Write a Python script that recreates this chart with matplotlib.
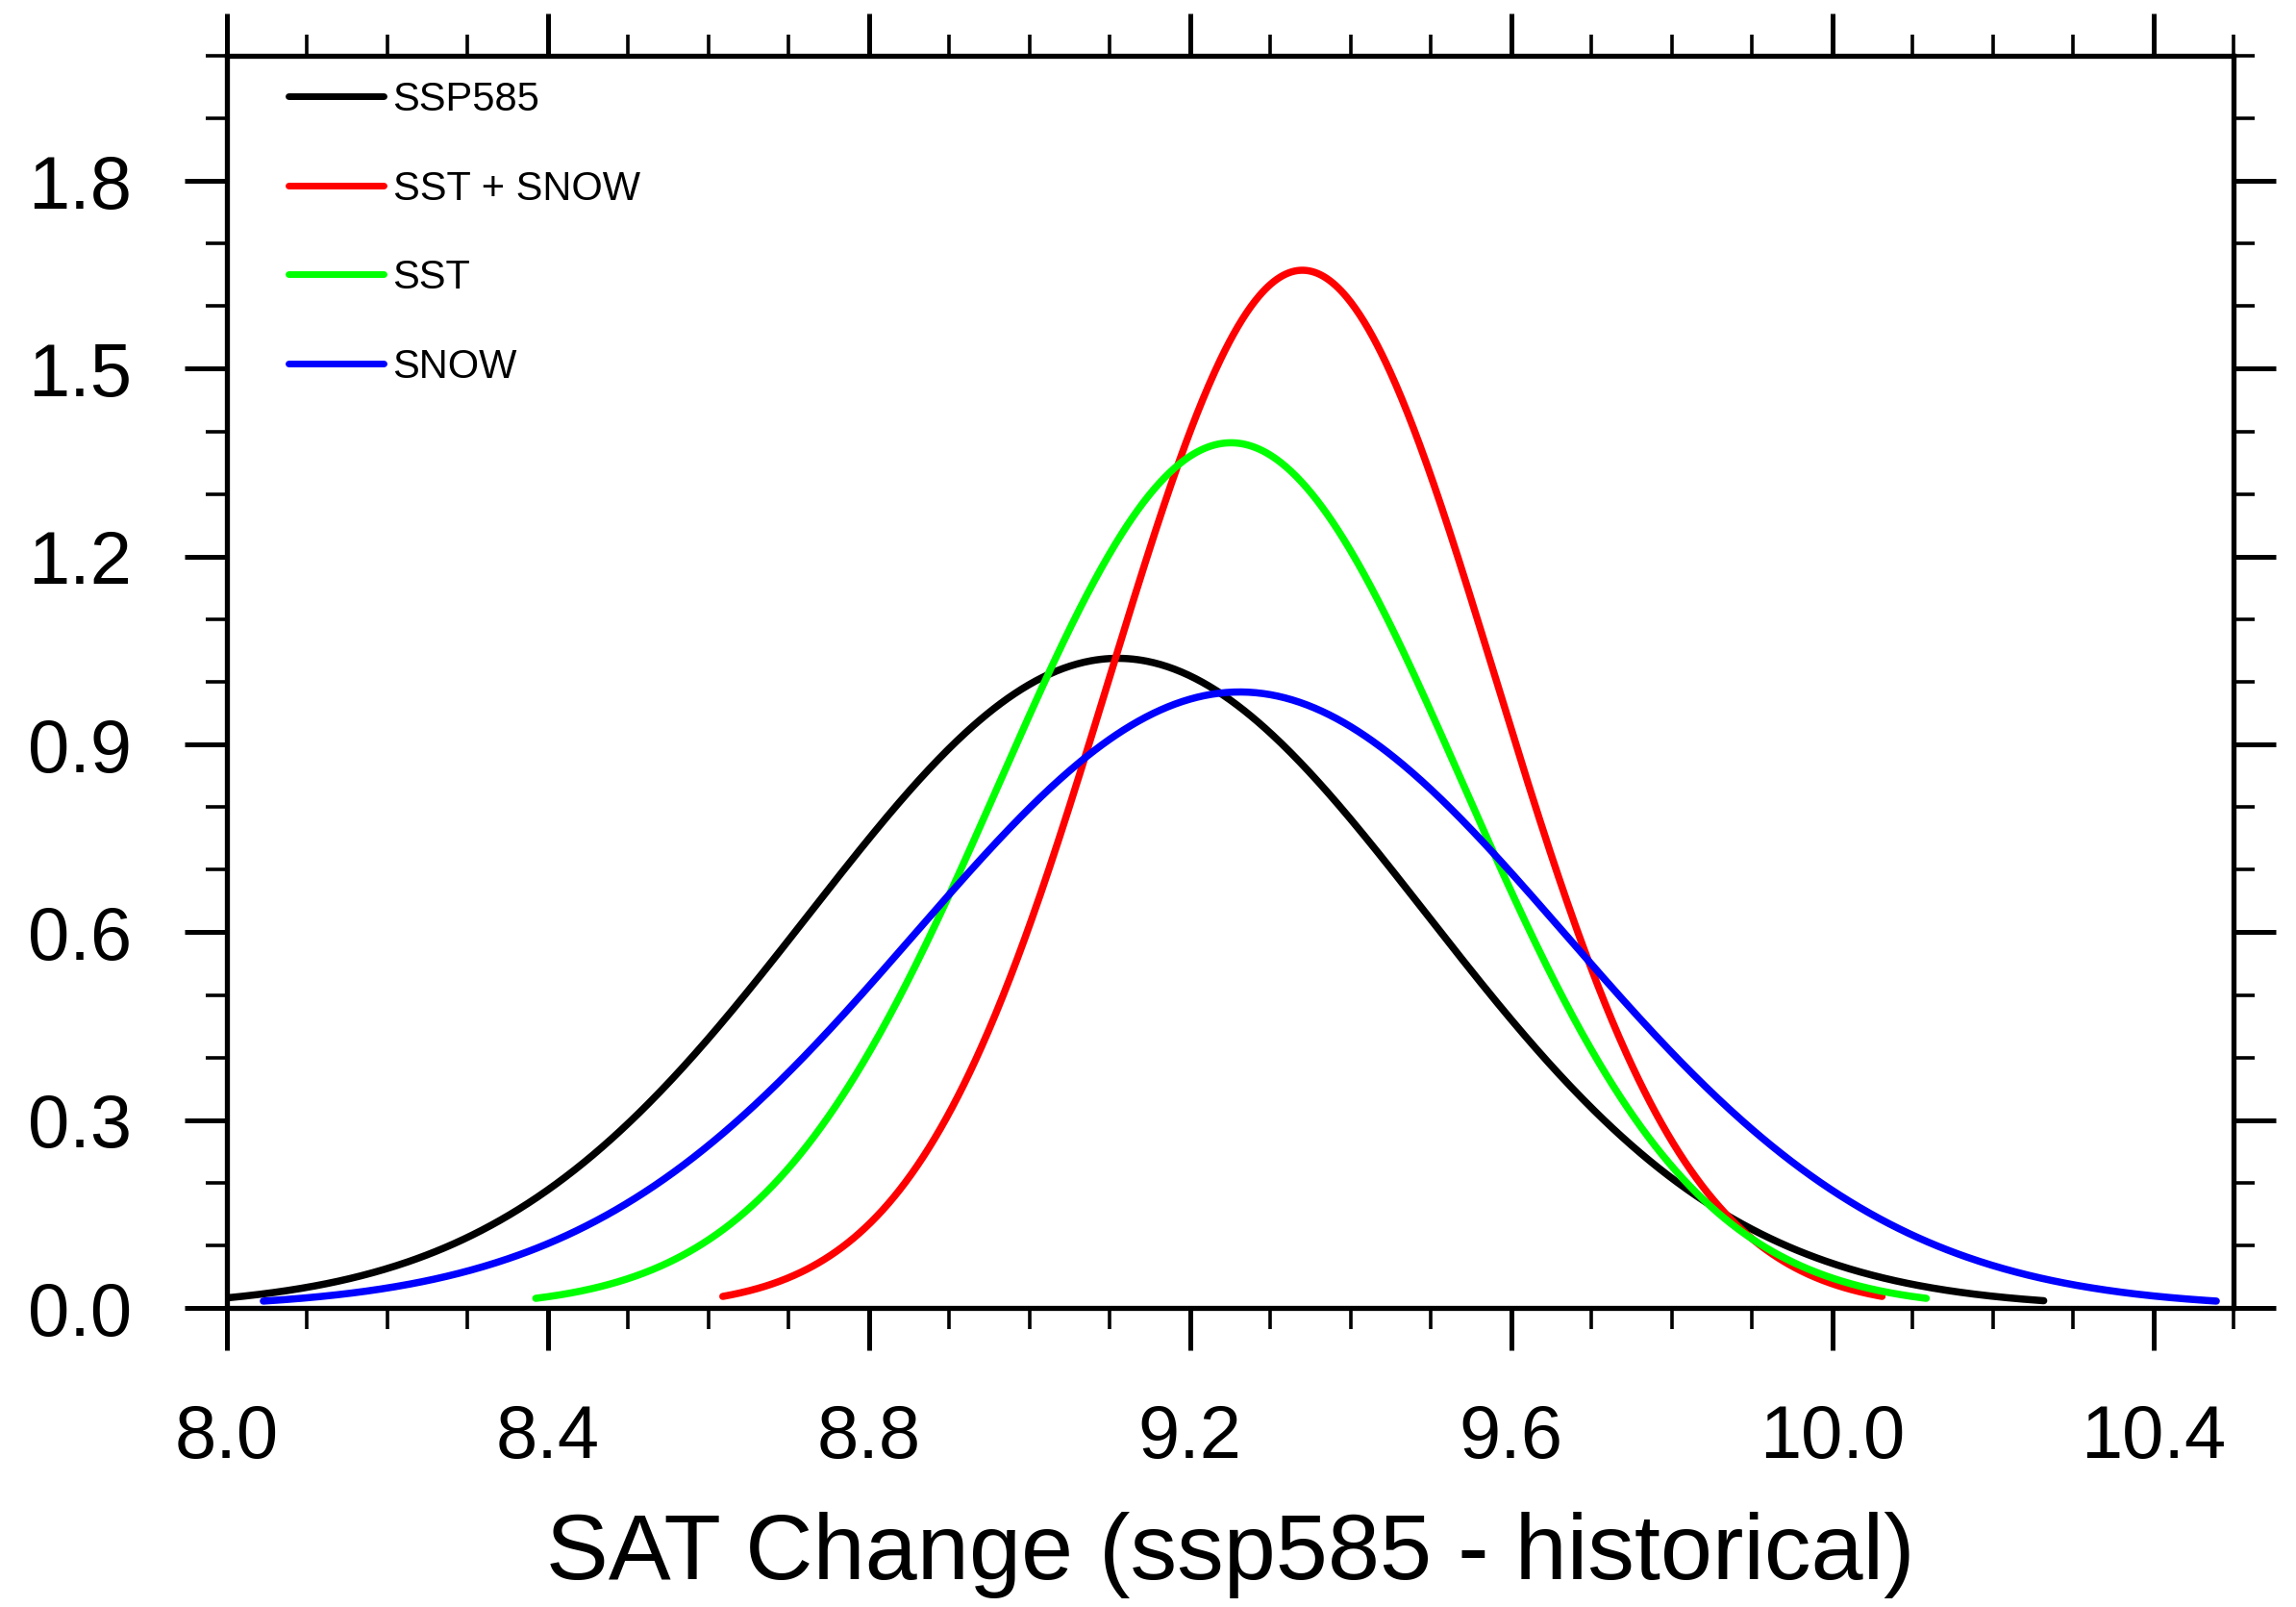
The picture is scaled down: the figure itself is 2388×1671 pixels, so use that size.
import numpy as np
import matplotlib
matplotlib.use("Agg")
import matplotlib.pyplot as plt
from matplotlib.ticker import MultipleLocator, FormatStrFormatter

# Fitted normal distributions of the SAT change for each experiment
labels = ["SSP585", "SST + SNOW", "SST", "SNOW"]
colors = ["#000000", "#FF0000", "#00FF00", "#0000FF"]
means = [9.110, 9.340, 9.251, 9.262]
stds = [0.3845, 0.2407, 0.2887, 0.4055]
n_sigma = 3.0  # each PDF is drawn over mean +/- 3 standard deviations

x_ticks = [8.0, 8.4, 8.8, 9.2, 9.6, 10.0, 10.4]
y_ticks = [0.0, 0.3, 0.6, 0.9, 1.2, 1.5, 1.8]
x_label = "SAT Change (ssp585 - historical)"

plt.rcParams["font.family"] = ["Liberation Sans", "DejaVu Sans"]

fig = plt.figure(figsize=(23.88, 16.71), dpi=100)
ax = fig.add_axes([0.0988, 0.1861, 0.8740, 0.7792])

for lab, col, mu, sd in zip(labels, colors, means, stds):
    x = np.linspace(mu - n_sigma * sd, mu + n_sigma * sd, 800)
    pdf = np.exp(-0.5 * ((x - mu) / sd) ** 2) / (sd * np.sqrt(2.0 * np.pi))
    ax.plot(x, pdf, color=col, lw=5.4, label=lab, solid_capstyle="round")

ax.set_xlim(8.0, 10.5)
ax.set_ylim(0.0, 2.0)
ax.set_xticks(x_ticks)
ax.set_yticks(y_ticks)
ax.xaxis.set_major_formatter(FormatStrFormatter("%.1f"))
ax.yaxis.set_major_formatter(FormatStrFormatter("%.1f"))
ax.xaxis.set_minor_locator(MultipleLocator(0.1))
ax.yaxis.set_minor_locator(MultipleLocator(0.1))

for s in ax.spines.values():
    s.set_linewidth(3.8)

ax.tick_params(which="both", direction="out", top=True, right=True,
               labeltop=False, labelright=False)
ax.tick_params(which="major", length=32, width=3.6, labelsize=56, pad=39)
ax.tick_params(which="minor", length=16, width=2.6)

ax.set_xlabel(x_label, fontsize=70, labelpad=29)

leg = ax.legend(loc="upper left", bbox_to_anchor=(0.0306, 0.980),
                frameon=False, fontsize=30, handlelength=2.39,
                handletextpad=0.22, labelspacing=1.26, borderpad=0,
                borderaxespad=0)
for h in leg.get_lines():
    h.set_linewidth(5.0)

fig.savefig("out.png", dpi=100)
